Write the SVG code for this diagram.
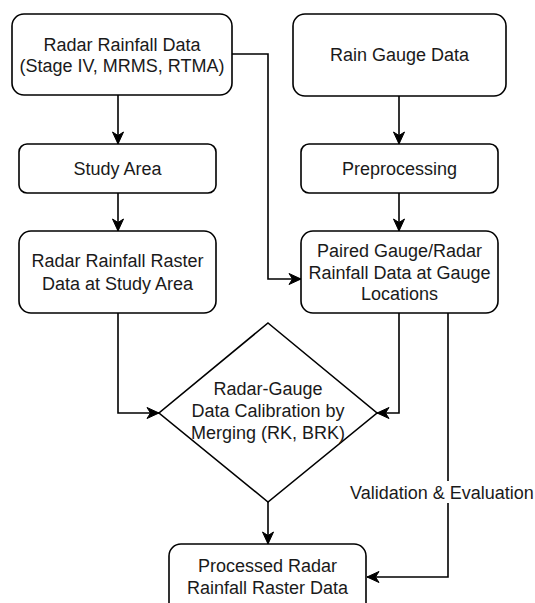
<svg xmlns="http://www.w3.org/2000/svg" width="535" height="603" viewBox="0 0 535 603">
<defs>
<marker id="arr" markerUnits="userSpaceOnUse" markerWidth="14" markerHeight="14" viewBox="0 0 14 14" refX="13" refY="7" orient="auto">
<path d="M1,1.5 L13,7 L1,12.5 L4.5,7 Z" fill="#000" stroke="#000" stroke-width="1"/>
</marker>
</defs>
<style>
.box{fill:#fff;stroke:#000;stroke-width:1.6}
.t{font-family:"Liberation Sans",Arial,sans-serif;font-size:18px;fill:#1a1a1a;text-anchor:middle}
.c{fill:none;stroke:#000;stroke-width:1.6;marker-end:url(#arr)}
</style>
<rect width="535" height="603" fill="#fff"/>
<g id="connectors">
<path class="c" d="M118,95 L118,144"/>
<path class="c" d="M118,193 L118,231"/>
<path class="c" d="M399,96 L399,144"/>
<path class="c" d="M399,193 L399,231"/>
<path class="c" d="M232,54 L268,54 L268,279 L301,279"/>
<path class="c" d="M118,313 L118,413 L159,413"/>
<path class="c" d="M399,313 L399,413 L377,413"/>
<path class="c" d="M268,502 L268,544"/>
<path class="c" d="M448,313 L448,577 L367,577"/>
<rect x="350" y="481" width="183" height="22" fill="#fff"/>
<text class="t" x="442" y="498.5">Validation &amp; Evaluation</text>
</g>
<g id="radar">
<rect class="box" x="12" y="14" width="220" height="81" rx="12"/>
<text class="t" x="122" y="50.5">Radar Rainfall Data</text>
<text class="t" x="122" y="71.5">(Stage IV, MRMS, RTMA)</text>
</g>
<g id="gauge">
<rect class="box" x="293" y="14" width="213" height="82" rx="12"/>
<text class="t" x="399.5" y="60.5">Rain Gauge Data</text>
</g>
<g id="study">
<rect class="box" x="19" y="144" width="197" height="49" rx="8"/>
<text class="t" x="117.5" y="175">Study Area</text>
</g>
<g id="preprocessing">
<rect class="box" x="301" y="144" width="197" height="49" rx="8"/>
<text class="t" x="399.5" y="175">Preprocessing</text>
</g>
<g id="raster">
<rect class="box" x="19" y="231" width="197" height="82" rx="12"/>
<text class="t" x="117.5" y="267">Radar Rainfall Raster</text>
<text class="t" x="117.5" y="289.5">Data at Study Area</text>
</g>
<g id="paired">
<rect class="box" x="301" y="231" width="197" height="82" rx="12"/>
<text class="t" x="399.5" y="256.5">Paired Gauge/Radar</text>
<text class="t" x="399.5" y="278.5">Rainfall Data at Gauge</text>
<text class="t" x="399.5" y="300">Locations</text>
</g>
<g id="calibration">
<path class="box" d="M268,323 L377,413 L268,502 L159,413 Z"/>
<text class="t" x="268" y="394.5">Radar-Gauge</text>
<text class="t" x="268" y="417">Data Calibration by</text>
<text class="t" x="268" y="439">Merging (RK, BRK)</text>
</g>
<g id="processed">
<rect class="box" x="169" y="544" width="197" height="82" rx="12"/>
<text class="t" x="267.5" y="571.5">Processed Radar</text>
<text class="t" x="267.5" y="593.5">Rainfall Raster Data</text>
</g>
</svg>
